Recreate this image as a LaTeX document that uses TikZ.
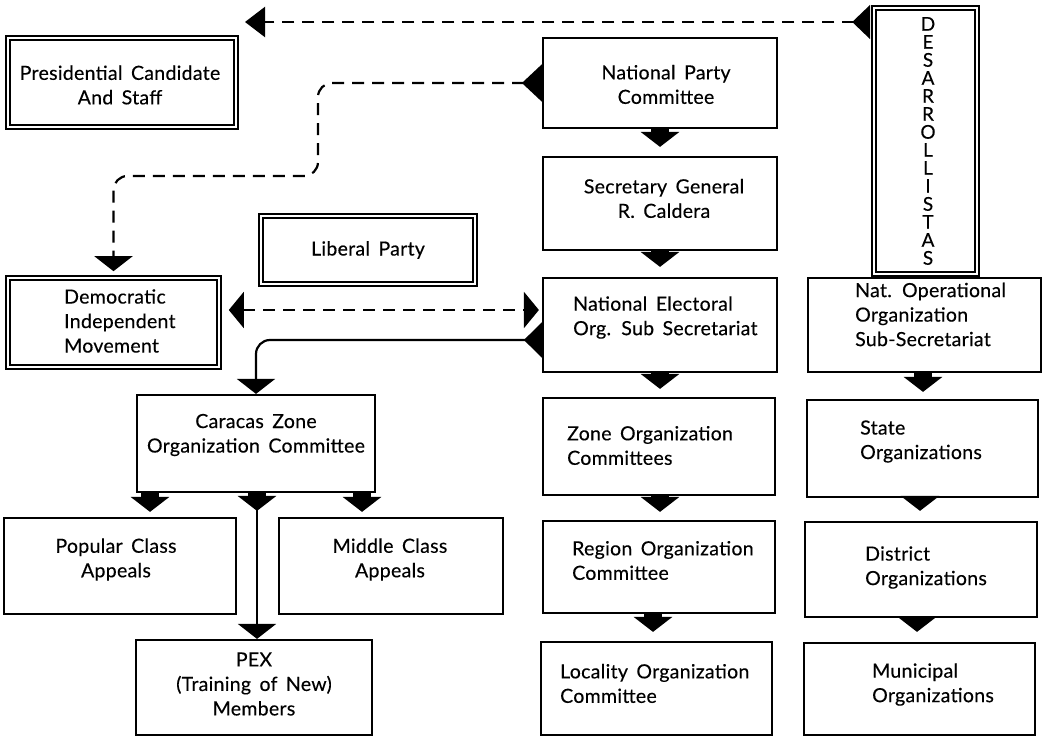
\documentclass[tikz,border=0pt]{standalone}
\usepackage{fontspec}
\setmainfont{Lato}[LetterSpace=1.5, WordSpace=1.6, FakeBold=0.3]
\usetikzlibrary{arrows.meta}
\begin{document}
\begin{tikzpicture}[x=1pt,y=-1pt,
  box/.style={draw, line width=2.2pt, inner sep=0},
  dbox/.style={draw, line width=1.6pt, double, double distance=2.8pt, inner sep=0},
  txt/.style={inner sep=0, font=\fontsize{19.5}{24.5}\selectfont},
  dashline/.style={line width=2.2pt, dash pattern=on 12pt off 8pt},
  solidline/.style={line width=2.2pt},
  fat/.style={line width=18pt, -{Triangle[width=38pt,length=15pt]}},
  tipin/.style={-{Triangle[width=38pt,length=15pt]}}
]
\useasboundingbox (0,0) rectangle (1046,738);
% ---------- boxes ----------
\node[dbox, minimum width=228pt, minimum height=89pt] (pres) at (122,82.5) {};
\node[dbox, minimum width=211pt, minimum height=89pt] (dim) at (113.5,322.5) {};
\node[dbox, minimum width=214pt, minimum height=68pt] (lib) at (368,250) {};
\node[dbox, minimum width=103pt, minimum height=266pt] (des) at (925.5,141) {};
\node[box, minimum width=234pt, minimum height=90pt] (npc) at (660,83) {};
\node[box, minimum width=234pt, minimum height=93pt] (sg) at (660,203.5) {};
\node[box, minimum width=234pt, minimum height=94pt] (neo) at (660,325) {};
\node[box, minimum width=232pt, minimum height=97pt] (zoc) at (659,446.5) {};
\node[box, minimum width=232pt, minimum height=92pt] (roc) at (659,567) {};
\node[box, minimum width=231pt, minimum height=93pt] (loc) at (656.5,688.5) {};
\node[box, minimum width=233pt, minimum height=94pt] (natop) at (924.5,325) {};
\node[box, minimum width=231pt, minimum height=97pt] (state) at (922.5,448.5) {};
\node[box, minimum width=232pt, minimum height=95pt] (dist) at (921,569.5) {};
\node[box, minimum width=231pt, minimum height=92pt] (muni) at (919.5,689) {};
\node[box, minimum width=238pt, minimum height=97pt] (car) at (256,443.5) {};
\node[box, minimum width=232pt, minimum height=96pt] (pop) at (120,566) {};
\node[box, minimum width=224pt, minimum height=96pt] (mid) at (391,566) {};
\node[box, minimum width=236pt, minimum height=95pt] (pex) at (254,687.5) {};
% ---------- texts ----------
\node[txt, align=center] (presT) at (120,85) {Presidential Candidate\\And Staff};
\node[txt, align=center] (npcT) at (666,84.5) {National Party\\Committee};
\node[txt, align=center] (sgT) at (664,198.5) {Secretary General\\R. Caldera};
\node[txt, align=left, anchor=west] (neoT) at (573,317.5) {National Electoral\\Org. Sub Secretariat};
\node[txt] (libT) at (368,250) {Liberal Party};
\node[txt, align=left, anchor=west] (dimT) at (64,321) {Democratic\\Independent\\Movement};
\node[txt, align=center] (carT) at (256,435) {Caracas Zone\\Organization Committee};
\node[txt, align=center] (popT) at (116,559.5) {Popular Class\\Appeals};
\node[txt, align=center] (midT) at (390,559.5) {Middle Class\\Appeals};
\node[txt, align=center] (pexT) at (254,684) {PEX\\(Training of New)\\Members};
\node[txt, align=left, anchor=west] (zocT) at (567,445.5) {Zone Organization\\Committees};
\node[txt, align=left, anchor=west] (rocT) at (572,560.5) {Region Organization\\Committee};
\node[txt, align=left, anchor=west] (locT) at (560,683.5) {Locality Organization\\Committee};
\node[txt, align=left, anchor=west] (natopT) at (855,314.5) {Nat. Operational\\Organization\\Sub-Secretariat};
\node[txt, align=left, anchor=west] (stateT) at (860,441.5) {State\\Organizations};
\node[txt, align=left, anchor=west] (distT) at (865,567.5) {District\\Organizations};
\node[txt, align=left, anchor=west] (muniT) at (872,684.5) {Municipal\\Organizations};
\node[inner sep=0, align=center, font=\fontsize{19}{18}\selectfont] (desT) at (928,141)
  {D\\E\\S\\A\\R\\R\\O\\L\\L\\I\\S\\T\\A\\S};
% ---------- helper coordinates ----------
\coordinate (ytop) at (0,22);
\coordinate (topend) at (245,22);
\coordinate (k1) at (318,176);
\coordinate (y310) at (0,310);
\coordinate (y340) at (0,340);
\coordinate (xm) at (660,0);
\coordinate (xl5) at (653,0);
\coordinate (xr1) at (923,0);
\coordinate (xr2) at (920,0);
\coordinate (xr3) at (917,0);
\coordinate (xc1) at (150,0);
\coordinate (xc2) at (257,0);
\coordinate (xc3) at (362,0);
% ---------- dashed connectors ----------
\draw[dashline, {Triangle[reversed,width=34pt,length=18pt]}-{Triangle[width=30pt,length=20pt]}, shorten <=3pt]
  (des.west |- ytop) -- (topend);
\draw[dashline, rounded corners=14pt, {Triangle[reversed,width=37pt,length=20pt]}-{Triangle[width=38pt,length=15pt]}, shorten >=6pt]
  (npc.west) -| (k1) -| (dim.north);
\draw[dashline, {Triangle[width=36pt,length=15pt]}-{Triangle[width=36pt,length=15pt]}, shorten <=9pt, shorten >=3pt]
  (dim.east |- y310) -- (neo.west |- y310);
% ---------- solid connector ----------
\draw[solidline, rounded corners=14pt, {Triangle[reversed,width=35pt,length=18pt]}-{Triangle[width=38pt,length=15pt]}]
  (neo.west |- y340) -| (car.north);
% ---------- fat arrows ----------
\draw[fat, shorten >=9pt] (npc.south -| xm) -- (sg.north -| xm);
\draw[fat, shorten >=10pt] (sg.south -| xm) -- (neo.north -| xm);
\draw[fat, shorten >=8pt] (neo.south -| xm) -- (zoc.north -| xm);
\draw[fat, shorten >=8pt] (zoc.south -| xm) -- (roc.north -| xm);
\draw[fat, shorten >=9pt] (roc.south -| xl5) -- (loc.north -| xl5);
\draw[fat, shorten >=7pt] (natop.south -| xr1) -- (state.north -| xr1);
\draw[fat, shorten >=10pt] (state.south -| xr2) -- (dist.north -| xr2);
\draw[fat, shorten >=10pt] (dist.south -| xr3) -- (muni.north -| xr3);
\draw[fat, shorten >=5pt] (car.south -| xc1) -- (pop.north -| xc1);
\draw[fat, shorten >=5pt] (car.south -| xc3) -- (mid.north -| xc3);
\draw[fat, shorten >=128pt] (car.south -| xc2) -- (pex.north -| xc2);
\draw[solidline, tipin] (car.south -| xc2) -- (pex.north -| xc2);
\end{tikzpicture}
\end{document}
